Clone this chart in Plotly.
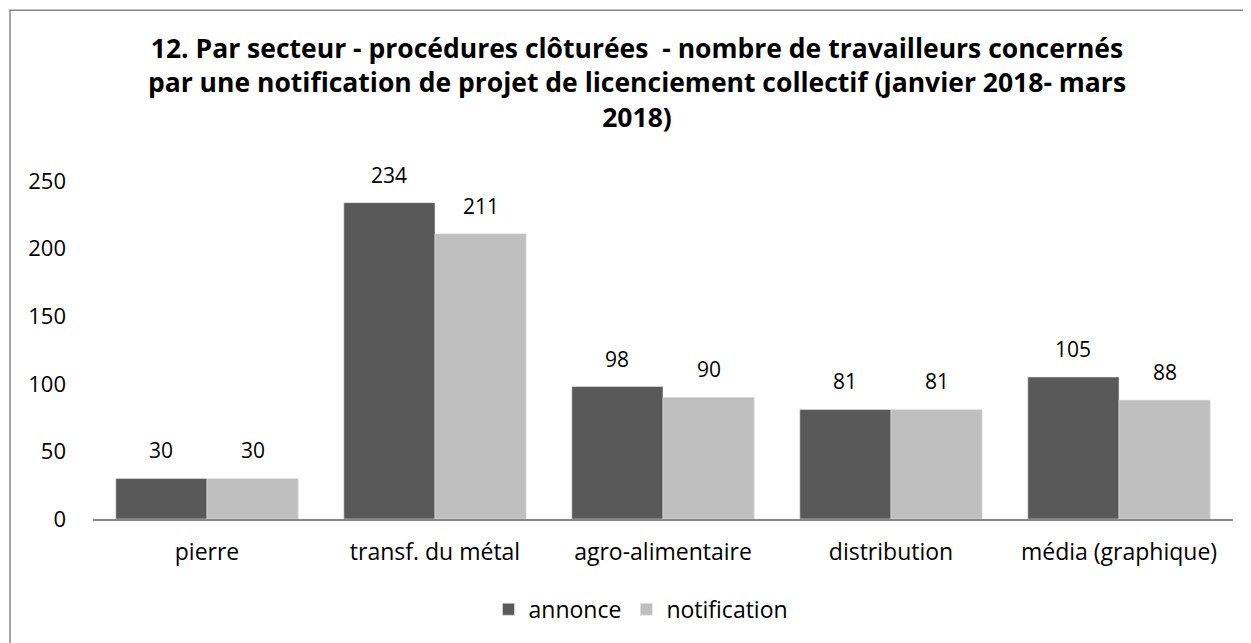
import plotly.graph_objects as go

categories = ["pierre", "transf. du métal", "agro-alimentaire", "distribution", "média (graphique)"]
annonce = [30, 234, 98, 81, 105]
notification = [30, 211, 90, 81, 88]
series_names = ["annonce", "notification"]
yticks = [0, 50, 100, 150, 200, 250]

FONT = "Open Sans"
colors = ["#595959", "#BFBFBF"]

# page body adds an 8px offset; figure is sized so its content lands on the reference spots
W, H = 1243, 635
L, R, T, B = 85, 18, 172.7, 123.5
PH = H - T - B
PW = W - L - R

fig = go.Figure()
for name, vals, col in zip(series_names, [annonce, notification], colors):
    fig.add_trace(go.Bar(
        x=categories, y=vals, name=name,
        marker=dict(color=col, line=dict(color="#E6E6E6", width=0.6)),
    ))

BAR_PX = PW / len(categories) * 0.4 / 2
for vals, shift in [(annonce, -BAR_PX), (notification, BAR_PX)]:
    for c, v in zip(categories, vals):
        fig.add_annotation(x=c, y=v, text=str(v), showarrow=False,
                           xshift=shift, yshift=28, yanchor="middle",
                           font=dict(family=FONT, size=21, color="#000"))

fig.add_shape(type="rect", xref="paper", yref="paper",
              x0=(2 - L) / PW, x1=(W + 60 - L) / PW,
              y0=(-(B + 60)) / PH, y1=(PH + T - 1.5) / PH,
              line=dict(color="#868686", width=1.5), fillcolor="rgba(0,0,0,0)", layer="below")

fig.update_layout(
    width=W, height=H,
    margin=dict(l=L, r=R, t=T, b=B, autoexpand=False),
    paper_bgcolor="white", plot_bgcolor="white",
    barmode="group", bargap=0.2, bargroupgap=0,
    title=dict(
        text="12. Par secteur - procédures clôturées  - nombre de travailleurs concernés<br>par une notification de projet de licenciement collectif (janvier 2018- mars<br>2018)",
        x=629 / W, xanchor="center", xref="container", y=1 - 50 / H, yanchor="middle",
        font=dict(family=FONT, size=26.5, color="#000", weight="bold"),
    ),
    font=dict(family=FONT, size=22, color="#000"),
    xaxis=dict(showline=True, linecolor="#868686", linewidth=2, showgrid=False,
               ticks="", ticklabelstandoff=11, tickfont=dict(size=23), automargin=False),
    yaxis=dict(range=[0, 250], tickvals=yticks, showgrid=False, zeroline=False,
               showline=False, ticks="", ticklabelstandoff=26, tickfont=dict(size=22),
               automargin=False),
    legend=dict(orientation="h", x=(633 - L) / PW, xanchor="center", y=-90.5 / PH, yanchor="middle",
                font=dict(size=23), itemwidth=30, traceorder="normal"),
    showlegend=True,
)

fig.write_html("out.html")
